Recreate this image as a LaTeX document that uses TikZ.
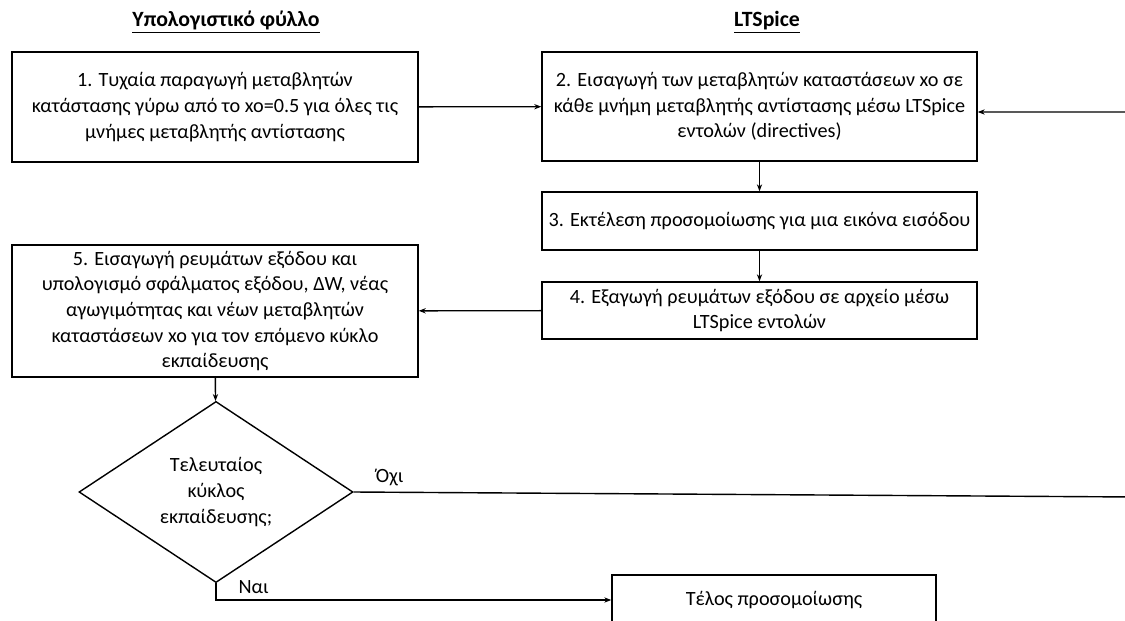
\documentclass[tikz,border=0pt]{standalone}
\usepackage{fontspec}
\setmainfont{Carlito}
\usepackage{tikz}
\usetikzlibrary{arrows.meta,shapes.geometric}

\begin{document}
\begin{tikzpicture}[
    font=\fontsize{11.5}{14.6}\selectfont,
    titlos/.style={font=\fontsize{12.4}{15}\selectfont\bfseries},
    box/.style={draw,thick,align=center,inner sep=0pt},
    arr/.style={thick,-{Stealth[length=4pt,width=3pt]}}]
  \useasboundingbox (0,0) rectangle (22.5,-12.42);
  \clip (0,0) rectangle (22.5,-12.42);
   \draw (4.52,-0.44) node[titlos] (fyllo) {\underline{Υπολογιστικό φύλλο}};
   \draw (15.34,-0.44) node[titlos] (ltspice) {\underline{LTSpice}};

  \draw (4.3,-2.14) node[box,minimum width=8.12cm,minimum height=2.2cm] (tyxaia)
      {1. Τυχαία παραγωγή μεταβλητών\\κατάστασης γύρω από το xo=0.5 για όλες τις\\μνήμες μεταβλητής αντίστασης};
  \draw (15.19,-2.13) node[box,minimum width=8.7cm,minimum height=2.18cm] (eisagogi)
      {2. Εισαγωγή των μεταβλητών καταστάσεων xo σε\\κάθε μνήμη μεταβλητής αντίστασης μέσω LTSpice\\εντολών (directives)};
      \draw (15.19,-4.42) node[box,minimum width=8.7cm,minimum height=1.16cm] (ektelesi)
      {3. Εκτέλεση προσομοίωσης για μια εικόνα εισόδου};
      \draw (15.19,-6.21) node[box,minimum width=8.7cm,minimum height=1.14cm] (exagogi)
      {4. Εξαγωγή ρευμάτων εξόδου σε αρχείο μέσω\\LTSpice εντολών};
  \draw (4.3,-6.22) node[box,minimum width=8.12cm,minimum height=2.64cm] (ypologismos)
      {5. Εισαγωγή ρευμάτων εξόδου και\\υπολογισμό σφάλματος εξόδου, ΔW, νέας\\αγωγιμότητας και νέων μεταβλητών\\καταστάσεων xo για τον επόμενο κύκλο\\εκπαίδευσης};
	\draw (4.32,-9.84) node[box,diamond,minimum width=5.48cm,minimum height=3.34cm] (teleutaios)
      {Τελευταίος\\κύκλος\\εκπαίδευσης;};
	    \draw (15.48,-12.0) node[box,minimum width=6.48cm,minimum height=1.0cm] (telos)
      {Τέλος προσομοίωσης};
  \coordinate (oxiakri) at (22.7,-9.94);
  \coordinate (epistrofi) at (22.7,-2.24);

    \path[arr] (tyxaia) edge (eisagogi);
      \path[arr] (eisagogi) edge (ektelesi);
      \path[arr] (ektelesi) edge (exagogi);
       \path[arr] (exagogi) edge (ypologismos);
       \path[arr] (ypologismos) edge (teleutaios);
    \draw[arr] (teleutaios.east) -- node[pos=0.02,above right] {Όχι} (oxiakri) -- (epistrofi) -- (eisagogi.east |- epistrofi);
    \draw[arr] (teleutaios.south) |- node[pos=0.5,above right,xshift=0.32cm] {Ναι} (telos.west);

\end{tikzpicture}
\end{document}
